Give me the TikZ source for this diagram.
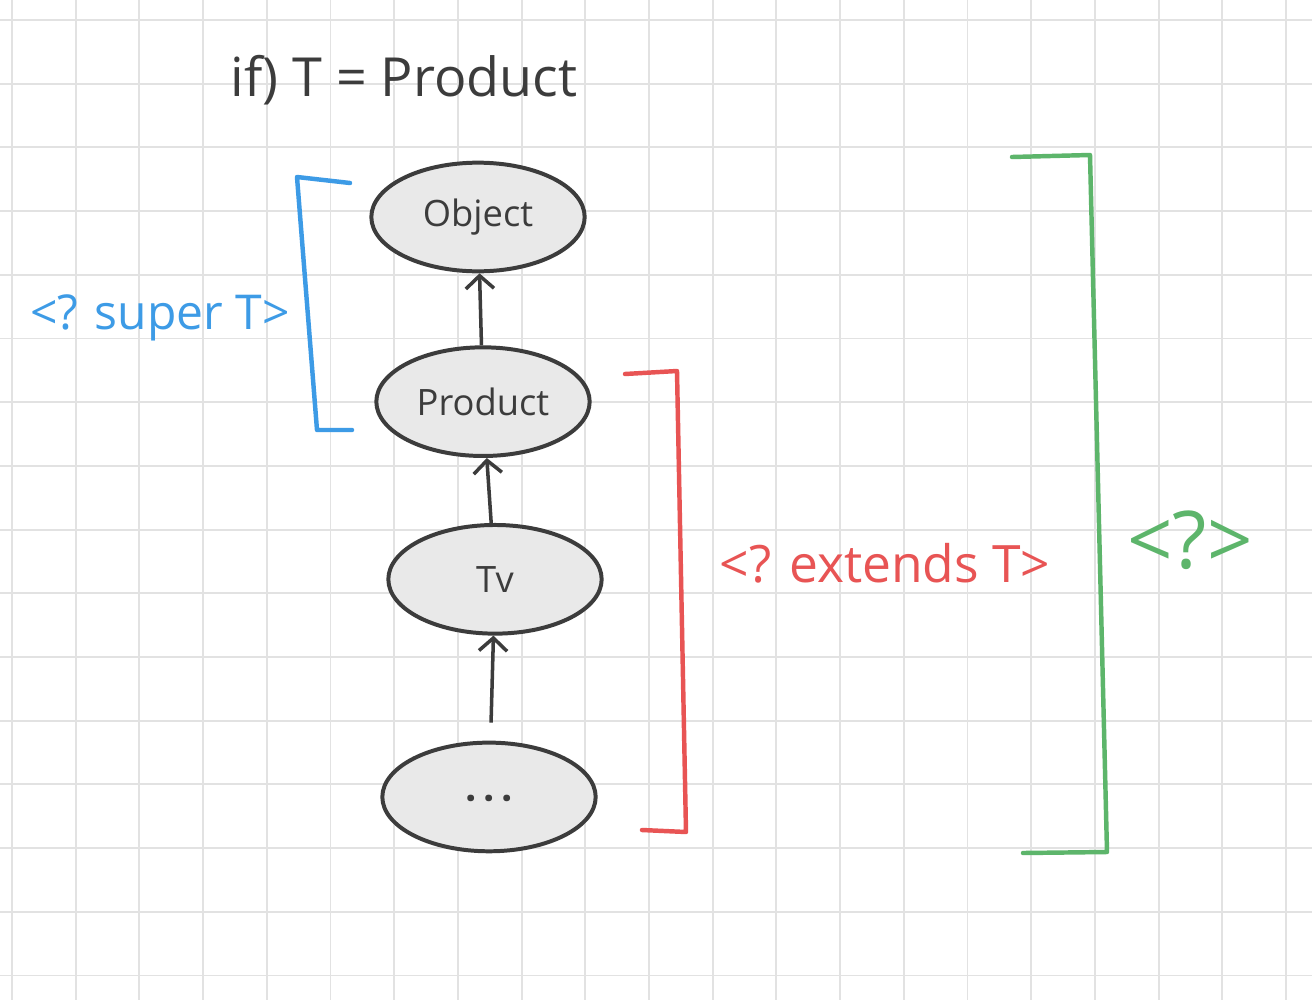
\documentclass[tikz,border=0pt]{standalone}
\usepackage{fontspec}
\setmainfont{Open Sans}
\usetikzlibrary{shapes.geometric, arrows.meta, positioning}
\definecolor{InkGray}{HTML}{3C3C3C}
\definecolor{FillGray}{HTML}{E9E9E9}
\definecolor{GridGray}{HTML}{E2E2E2}
\definecolor{SuperBlue}{HTML}{3D9BE6}
\definecolor{ExtendsRed}{HTML}{E85454}
\definecolor{AnyGreen}{HTML}{5DB56B}

\begin{document}
\begin{tikzpicture}[
      x=0.3mm, y=-0.3mm,
      cls/.style={ellipse, draw=InkGray, fill=FillGray, line width=3.4pt, minimum width=64mm, minimum height=32.6mm, font=\fontsize{31}{36}\selectfont, text=InkGray},
      arrow/.style={-{Straight Barb[length=11pt, width=24pt]}, draw=InkGray, line width=3pt},
      bracket/.style={line width=3.8pt, line join=round, line cap=round},
      tag/.style={font=\fontsize{44}{50}\selectfont}
  ]
      % Paper grid
      \path[use as bounding box] (0,0) rectangle (1312,1000);
      \fill[white] (0,0) rectangle (1312,1000);
      \foreach \i in {0,...,20} \draw[GridGray, line width=1.6pt] (12+63.7*\i,0) -- (12+63.7*\i,1000);
      \foreach \j in {0,...,15} \draw[GridGray, line width=1.6pt] (0,20+63.7*\j) -- (1312,20+63.7*\j);

      % Title
      \node[font=\fontsize{46}{52}\selectfont, text=InkGray] (title) at (404,80) {if) T = Product};

      % Type hierarchy
      \node[cls] (object) at (478,217) {Object};
      \node[cls, below=21.6mm of object, xshift=1.5mm] (product) {Product};
      \node[cls, below=19.5mm of product, xshift=3.6mm] (tv) {Tv};
      \node[cls, below=31.5mm of tv, xshift=-1.8mm, font=\fontsize{34}{38}\selectfont] (dots) {\raisebox{-0.38em}[0pt][0pt]{\textbf{·\,·\,·}}};

      % Connectors
      \draw[arrow] (product) -- (object);
      \draw[arrow] (tv) -- (product);
      \draw[arrow, shorten <=5.4mm] (dots) -- (tv);

      % Wildcard brackets
      \draw[bracket, SuperBlue] (350,183) -- (297,177) -- (317,430) -- (352,430);
      \node[tag, font=\fontsize{41}{48}\selectfont, text=SuperBlue] (super) at (160,318) {<? super T>};

      \draw[bracket, ExtendsRed] (625,374) -- (677,371) -- (686,832) -- (642,830);
      \node[tag, text=ExtendsRed] (extends) at (885,563) {<? extends T>};

      \draw[bracket, AnyGreen] (1012,157) -- (1090,155) -- (1107,852) -- (1023,853);
      \node[tag, font=\fontsize{68}{74}\selectfont, text=AnyGreen] (any) at (1190,540) {<?>};
  \end{tikzpicture}
\end{document}
